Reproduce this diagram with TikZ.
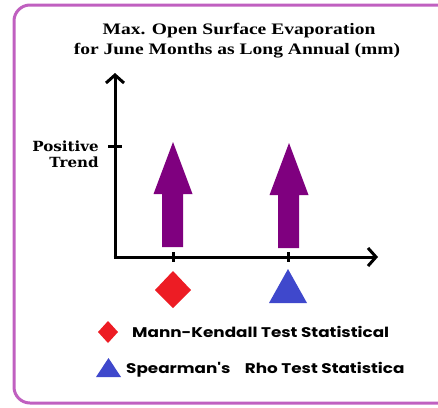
\documentclass[tikz,border=0pt]{standalone}
\usepackage{fontspec}
\setmainfont{Liberation Serif}
\newfontfamily\legfont{Poppins}
\newfontfamily\trendfont{DejaVu Serif}
\usetikzlibrary{arrows.meta}
\definecolor{frame}{HTML}{C060C0}
\definecolor{bigarrow}{HTML}{7F007F}
\definecolor{mkred}{HTML}{ED1C24}
\definecolor{srblue}{HTML}{3F48CC}
\begin{document}
\begin{tikzpicture}[x=1pt,y=-1pt,
  axis/.style={line width=3pt,-{Straight Barb[length=8pt,width=18pt,line width=3pt]}},
  tickline/.style={line width=3pt},
  trend/.style={fill=bigarrow,draw=none},
  title/.style={font=\fontsize{16}{20}\selectfont\bfseries,anchor=base,inner sep=0pt},
  ylab/.style={font=\trendfont\fontsize{14}{17}\selectfont\bfseries,anchor=base east,inner sep=0pt},
  leg/.style={font=\legfont\fontsize{14}{16}\selectfont\bfseries,anchor=base west,inner sep=0pt}]
\useasboundingbox (0,0) rectangle (438,407);
\draw[frame,line width=3pt,rounded corners=16pt] (14,5) rectangle (460,403);
\node[title] (t1) at (239,34) {\scalebox{1.22}[1]{Max. Open Surface Evaporation}};
\node[title] (t2) at (237,54) {\scalebox{1.22}[1]{for June Months as Long Annual (mm)}};
% axes
\coordinate (o) at (115,257);
\coordinate (ytop) at (115,73);
\coordinate (xend) at (378,257);
\draw[axis,line cap=round] (o) -- (ytop);
\draw[axis] ([xshift=-1.5pt]o) -- (xend);
\draw[tickline] (108,146) -- (122,146);
\draw[tickline] (173,252) -- (173,262);
\draw[tickline] (288,252) -- (288,262);
\node[ylab] (p1) at (99,151) {\scalebox{1.08}[1]{Positive}};
\node[ylab] (p2) at (99,167) {\scalebox{1.08}[1]{Trend}};
% trend arrows
\fill[trend] (162,247) -- (183,247) -- (183,194) -- (192.5,194) -- (173,142) -- (153.5,194) -- (162,194) -- cycle;
\fill[trend] (278,248) -- (299,248) -- (299,195) -- (308.5,195) -- (289,143) -- (269.5,195) -- (278,195) -- cycle;
% markers
\fill[mkred] (173,271) -- (191,290) -- (173,308) -- (155,290) -- cycle;
\fill[srblue] (288,269) -- (307,303) -- (269,303) -- cycle;
% legend
\fill[mkred] (108,321) -- (118,332) -- (108,343) -- (98,332) -- cycle;
\node[leg] (l1) at (132,337) {\scalebox{1.2}[1]{Mann-Kendall Test Statistical}};
\fill[srblue] (108.5,358) -- (121,377) -- (96,377) -- cycle;
\node[leg] (l2) at (126,373) {\scalebox{1.2}[1]{Spearman's\hspace{9pt} Rho Test Statistica}};
\end{tikzpicture}
\end{document}
